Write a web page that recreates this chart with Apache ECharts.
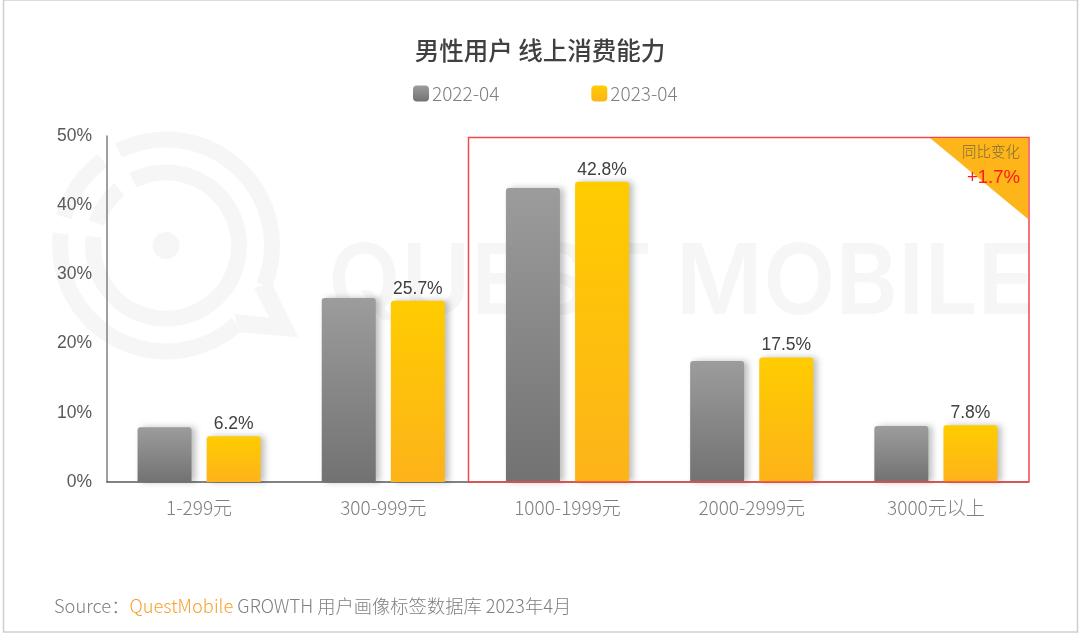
<!DOCTYPE html>
<html>
<head>
    <meta charset="UTF-8">
    <title>男性用户 线上消费能力</title>
    <script src="https://cdn.jsdelivr.net/npm/echarts@6/dist/echarts.min.js"></script>
    <style>
        html, body { margin: 0; padding: 0; background: #fff; }
        #chart { width: 1080px; height: 635px; }
    </style>
</head>
<body>
    <div id="chart"></div>
    <script>
        // 数据
        const categories = ['1-299元', '300-999元', '1000-1999元', '2000-2999元', '3000元以上'];
        const seriesNames = ['2022-04', '2023-04'];
        const values2022 = [7.9, 26.6, 42.5, 17.5, 8.1];
        // 柱高按图读取，标注文字按图上写的
        const values2023 = [6.6, 26.2, 43.4, 18.0, 8.2];
        const labels2023 = ['6.2%', '25.7%', '42.8%', '17.5%', '7.8%'];
        const yTicks = [0, 10, 20, 30, 40, 50];

        const cjk = '"Noto Sans CJK SC", "Noto Sans", sans-serif';
        const latin = '"Liberation Sans", Arial, sans-serif';
        const wmColor = '#f6f6f6';

        function grad(top, bottom) {
            return new echarts.graphic.LinearGradient(0, 0, 0, 1, [
                { offset: 0, color: top },
                { offset: 1, color: bottom }
            ]);
        }
        function deg(d) { return d * Math.PI / 180; }

        function ring(r, from, to) {
            return {
                type: 'arc', z: -10, silent: true,
                shape: { cx: 166, cy: 245.5, r: r, startAngle: deg(from), endAngle: deg(to), clockwise: true },
                style: { stroke: wmColor, lineWidth: 16, fill: null }
            };
        }

        const barStyle = {
            borderRadius: [3, 3, 0, 0],
            shadowColor: 'rgba(0,0,0,0.25)',
            shadowBlur: 6,
            shadowOffsetX: 4,
            shadowOffsetY: 0
        };

        const chart = echarts.init(document.getElementById('chart'));
        chart.setOption({
            animation: false,
            backgroundColor: '#fff',
            title: [{
                text: '男性用户 线上消费能力',
                left: 'center',
                top: 33,
                textStyle: { fontFamily: cjk, fontSize: 24.5, fontWeight: 500, color: '#404040' }
            }, {
                text: '{a|Source：}{b|QuestMobile}{a| GROWTH 用户画像标签数据库 2023年4月}',
                left: 49,
                top: 592,
                textStyle: {
                    rich: {
                        a: { fontFamily: cjk, fontSize: 18.3, fontWeight: 300, color: '#7f7f7f' },
                        b: { fontFamily: cjk, fontSize: 18.3, fontWeight: 300, color: '#f7a12c' }
                    }
                }
            }],
            legend: {
                left: 408,
                top: 79,
                itemWidth: 16,
                itemHeight: 16,
                itemGap: 92,
                icon: 'roundRect',
                data: seriesNames,
                itemStyle: { shadowBlur: 0, shadowOffsetX: 0 },
                textStyle: { fontFamily: cjk, fontSize: 19, fontWeight: 300, color: '#7f7f7f', padding: [0, 0, 2, -2] }
            },
            grid: { left: 107, right: 52, top: 136, bottom: 153 },
            xAxis: {
                type: 'category',
                data: categories,
                axisLine: { lineStyle: { color: '#595959', width: 1.5 } },
                axisTick: { show: false },
                axisLabel: { margin: 16, fontFamily: cjk, fontSize: 19, fontWeight: 300, color: '#7f7f7f' }
            },
            yAxis: {
                type: 'value',
                min: yTicks[0],
                max: yTicks[yTicks.length - 1],
                interval: 10,
                axisLine: { show: true, lineStyle: { color: '#7f7f7f', width: 1.5 } },
                axisTick: { show: false },
                splitLine: { show: false },
                axisLabel: {
                    margin: 15,
                    formatter: '{value}%',
                    fontFamily: latin,
                    fontSize: 17.5,
                    color: '#595959'
                }
            },
            series: [{
                name: seriesNames[0],
                type: 'bar',
                barWidth: 54,
                barGap: '28%',
                data: values2022,
                itemStyle: Object.assign({ color: grad('#9c9c9c', '#727272') }, barStyle)
            }, {
                name: seriesNames[1],
                type: 'bar',
                barWidth: 54,
                data: values2023,
                itemStyle: Object.assign({ color: grad('#ffcc00', '#fdb31a') }, barStyle),
                label: {
                    show: true,
                    position: 'top',
                    distance: 3,
                    formatter: function (p) { return labels2023[p.dataIndex]; },
                    fontFamily: latin,
                    fontSize: 17.5,
                    color: '#404040'
                }
            }],
            graphic: [
                // 水印
                ring(106, -116.6, 22),
                ring(106, 48, 186.5),
                ring(106, -164.4, -126.6),
                ring(73, -116.9, 187),
                ring(73, -162, -129.7),
                {
                    type: 'circle', z: -10, silent: true,
                    shape: { cx: 166, cy: 245.5, r: 13.5 },
                    style: { fill: wmColor }
                },
                {
                    type: 'polygon', z: -10, silent: true,
                    shape: { points: [[271.7, 283.3], [298.3, 337.3], [238.3, 332.3], [235, 314], [269.3, 317.7], [254, 287.7]] },
                    style: { fill: wmColor }
                },
                {
                    type: 'text', z: -10, silent: true, x: 328, y: 236, scaleX: 0.965,
                    style: { text: 'QUEST MOBILE', fontFamily: '"Inter", sans-serif', fontSize: 98, fontWeight: 600, fill: wmColor }
                },
                // 红框和角标
                {
                    type: 'rect', z: 50, silent: true,
                    shape: { x: 468.5, y: 137.5, width: 560.5, height: 344.5 },
                    style: { fill: null, stroke: '#f4474a', lineWidth: 1.5 }
                },
                {
                    type: 'polygon', z: 51, silent: true,
                    shape: { points: [[930, 138], [1028, 138], [1028, 219]] },
                    style: { fill: '#fdb51a' }
                },
                {
                    type: 'text', z: 52, silent: true, right: 60, top: 144,
                    style: { text: '同比变化', fontFamily: cjk, fontSize: 14.5, fontWeight: 300, fill: '#7a6a3a' }
                },
                {
                    type: 'text', z: 52, silent: true, right: 60, top: 168,
                    style: { text: '+1.7%', fontFamily: latin, fontSize: 18.5, fill: '#ff1a1a' }
                },
                // 外边框
                {
                    type: 'rect', z: 60, silent: true,
                    shape: { x: 3.5, y: 0, width: 1074, height: 632 },
                    style: { fill: null, stroke: '#cfcfcf', lineWidth: 1.5 }
                }
            ]
        });
    </script>
</body>
</html>
